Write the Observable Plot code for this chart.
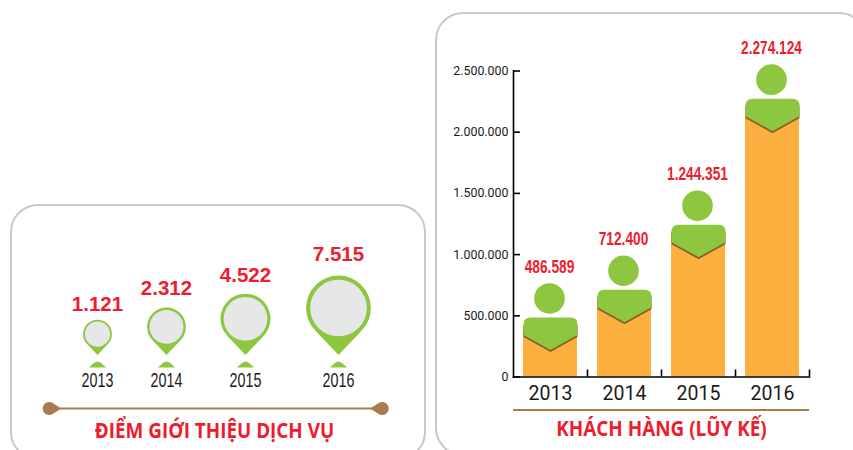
<!DOCTYPE html>
<html><head><meta charset="utf-8">
<script src="https://cdn.jsdelivr.net/npm/d3@7"></script>
<script src="https://cdn.jsdelivr.net/npm/@observablehq/plot@0.6"></script>
<style>
html,body{margin:0;padding:0;background:#fff;width:853px;height:450px;overflow:hidden}
#page{position:relative;width:853px;height:450px;overflow:hidden}
.card{position:absolute;border:2px solid #c8c8c8;border-radius:28px;box-sizing:border-box}
#left,#right{position:absolute;top:0}
#left{left:0}#right{left:430px}
svg{background:transparent!important;display:block}
</style></head><body>
<div id="page">
<div class="card" style="left:10px;top:204px;width:416px;height:256px"></div>
<div class="card" style="left:435px;top:12px;width:432px;height:444px"></div>
<div id="left"></div><div id="right"></div>
</div>
<script>
const years = [2013, 2014, 2015, 2016];
const points = [1121, 2312, 4522, 7515];
const customers = [486589, 712400, 1244351, 2274124];
const customerTicks = [0, 500000, 1000000, 1500000, 2000000, 2500000];
const pointsTitle = "ĐIỂM GIỚI THIỆU DỊCH VỤ";
const customersTitle = "KHÁCH HÀNG (LŨY KẾ)";

const RED = "#ed1c2e", GREEN = "#8dc63f", ORANGE = "#fdb040", GREY = "#e6e7e8", BROWN = "#a97c50", INK = "#1a1a1a";
const SANS = "'Liberation Sans',sans-serif";
const fmt = d3.formatLocale({decimal: ",", thousands: ".", grouping: [3], currency: ["", ""]}).format(",");
const pointRows = years.map((year, i) => ({year, value: points[i]}));
const customerRows = years.map((year, i) => ({year: String(year), value: customers[i]}));

// Custom symbols: the anchor is the mark's scaled position
const pin = {draw(c, size) {
  const r = Math.sqrt(size / Math.PI), d = r * 1.45, a = Math.acos(r / d);
  c.moveTo(0, 0);
  c.arc(0, -d, r, Math.PI / 2 - a, Math.PI / 2 + a - 2 * Math.PI, true);
  c.closePath();
}};
const pinFace = {draw(c, size) {
  const r = Math.sqrt(size / Math.PI), d = r * 1.45, q = r * 0.875;
  c.moveTo(q, -d);
  c.arc(0, -d, q, 0, 2 * Math.PI);
}};
const dome = {draw(c) {
  c.moveTo(-8.5, 12.6);
  c.quadraticCurveTo(-3, 6.5, 0, 6.5);
  c.quadraticCurveTo(3, 6.5, 8.5, 12.6);
  c.closePath();
}};
const knobLeft = {draw(c) {
  const r = 6.5, d = 12, a = Math.acos(r / d);
  c.moveTo(d, 0);
  c.arc(0, 0, r, a, 2 * Math.PI - a);
  c.closePath();
}};
const knobRight = {draw(c) {
  const r = 6.5, d = 12, a = Math.acos(r / d);
  c.moveTo(-d, 0);
  c.arc(0, 0, r, Math.PI + a, 3 * Math.PI - a);
  c.closePath();
}};
const bodyPath = (c, off) => {
  const w = 27, t = 7, e = 17.5, m = 32.5;
  c.moveTo(-w, t + off);
  c.quadraticCurveTo(-w, off, -w + t, off);
  c.lineTo(w - t, off);
  c.quadraticCurveTo(w, off, w, t + off);
  c.lineTo(w, e + off);
  c.lineTo(0, m + off);
  c.lineTo(-w, e + off);
  c.closePath();
};
const body = {draw(c) { bodyPath(c, 0); }};
const bodyShade = {draw(c) { bodyPath(c, 2); }};

const leftPlot = Plot.plot({
  width: 430, height: 450, margin: 0,
  style: {background: "transparent"},
  x: {type: "linear", domain: years, range: [97, 166, 245, 338], axis: null},
  y: {type: "linear", domain: [0, ...points], range: [354.5, 303.6, 287.6, 274.6, 253.6], axis: null},
  r: {type: "linear", domain: points, range: [14.4, 19.4, 25, 32.4]},
  marks: [
    Plot.dot(pointRows, {x: "year", y: () => 0, symbol: dome, r: 4, fill: GREEN, stroke: "none"}),
    Plot.dot(pointRows, {x: "year", y: () => 0, r: "value", symbol: pin, fill: GREEN, stroke: "none"}),
    Plot.dot(pointRows, {x: "year", y: () => 0, r: "value", symbol: pinFace, fill: GREY, stroke: "none"}),
    Plot.text(pointRows, {x: "year", y: "value", text: d => fmt(d.value), fill: RED,
      fontFamily: SANS, fontWeight: 700, fontSize: 20.5}),
    Plot.text(pointRows, {x: "year", y: () => 0, dy: 25.7, text: d => String(d.year), fill: INK, className: "squeeze-68",
      fontFamily: SANS, fontSize: 21}),
    Plot.ruleY([0], {x1: () => 2012.3, x2: () => 2016.47, dy: 53.5, stroke: BROWN, strokeWidth: 2}),
    Plot.dot([2012.3], {x: d => d, y: () => 0, dy: 53.5, symbol: knobLeft, r: 4, fill: BROWN, stroke: "none"}),
    Plot.dot([2016.47], {x: d => d, y: () => 0, dy: 53.5, symbol: knobRight, r: 4, fill: BROWN, stroke: "none"}),
    Plot.text([pointsTitle], {frameAnchor: "bottom", dy: -12.5, dx: -1, fill: RED, className: "squeeze-92",
      fontFamily: "'Open Sans',sans-serif", fontWeight: 700, fontSize: 20.5})
  ]
});
document.getElementById("left").append(leftPlot);

const rightPlot = Plot.plot({
  width: 423, height: 450,
  marginLeft: 83, marginRight: 44, marginTop: 70.5, marginBottom: 73.5,
  style: {background: "transparent"},
  x: {type: "band", domain: years.map(String), padding: 0, axis: null},
  y: {type: "linear", domain: [0, 2500000], axis: null},
  marks: [
    Plot.barY(customerRows, {x: "year", y: "value", fill: ORANGE, insetLeft: 10, insetRight: 10, insetTop: 8}),
    Plot.dot(customerRows, {x: "year", y: "value", symbol: bodyShade, r: 4, fill: "#8a5f2a", stroke: "none"}),
    Plot.dot(customerRows, {x: "year", y: "value", symbol: body, r: 4, fill: GREEN, stroke: "none"}),
    Plot.dot(customerRows, {x: "year", y: "value", dx: -1, dy: -19, r: 15.3, fill: GREEN, stroke: "none"}),
    Plot.text(customerRows, {x: "year", y: "value", dx: -1, dy: -51, text: d => fmt(d.value), fill: RED, className: "squeeze-72",
      fontFamily: SANS, fontWeight: 700, fontSize: 19}),
    Plot.frame({anchor: "left", stroke: "#000", strokeWidth: 1.6}),
    Plot.frame({anchor: "bottom", stroke: "#000", strokeWidth: 1.6}),
    Plot.tickY(customerTicks, {y: d => d, insetRight: 289, stroke: "#000", strokeWidth: 1.6}),
    Plot.tickX(customerRows, {x: "year", dx: 37, insetTop: 299, stroke: "#000", strokeWidth: 1.6}),
    Plot.text(customerTicks, {y: d => d, frameAnchor: "left", dx: -5, textAnchor: "end", text: d => fmt(d), fill: INK,
      fontFamily: "Roboto,sans-serif", fontSize: 12.4}),
    Plot.text(customerRows, {x: "year", y: () => 0, dy: 17, text: "year", fill: INK,
      fontFamily: "Roboto,sans-serif", fontSize: 19.5}),
    Plot.ruleY([0], {dy: 33, stroke: BROWN, strokeWidth: 2}),
    Plot.text([customersTitle], {frameAnchor: "bottom", dy: 59, fill: RED, className: "squeeze-90",
      fontFamily: "'Open Sans',sans-serif", fontWeight: 700, fontSize: 21})
  ]
});
document.getElementById("right").append(rightPlot);

// Condense text to match the reference's narrow type
for (const [k, cls] of [[0.68, "squeeze-68"], [0.72, "squeeze-72"], [0.92, "squeeze-92"], [0.90, "squeeze-90"]]) {
  document.querySelectorAll(`.${cls} text, text.${cls}`).forEach(t => {
    const len = t.getComputedTextLength();
    t.setAttribute("textLength", (len * k).toFixed(1));
    t.setAttribute("lengthAdjust", "spacingAndGlyphs");
  });
}
</script>
</body></html>
